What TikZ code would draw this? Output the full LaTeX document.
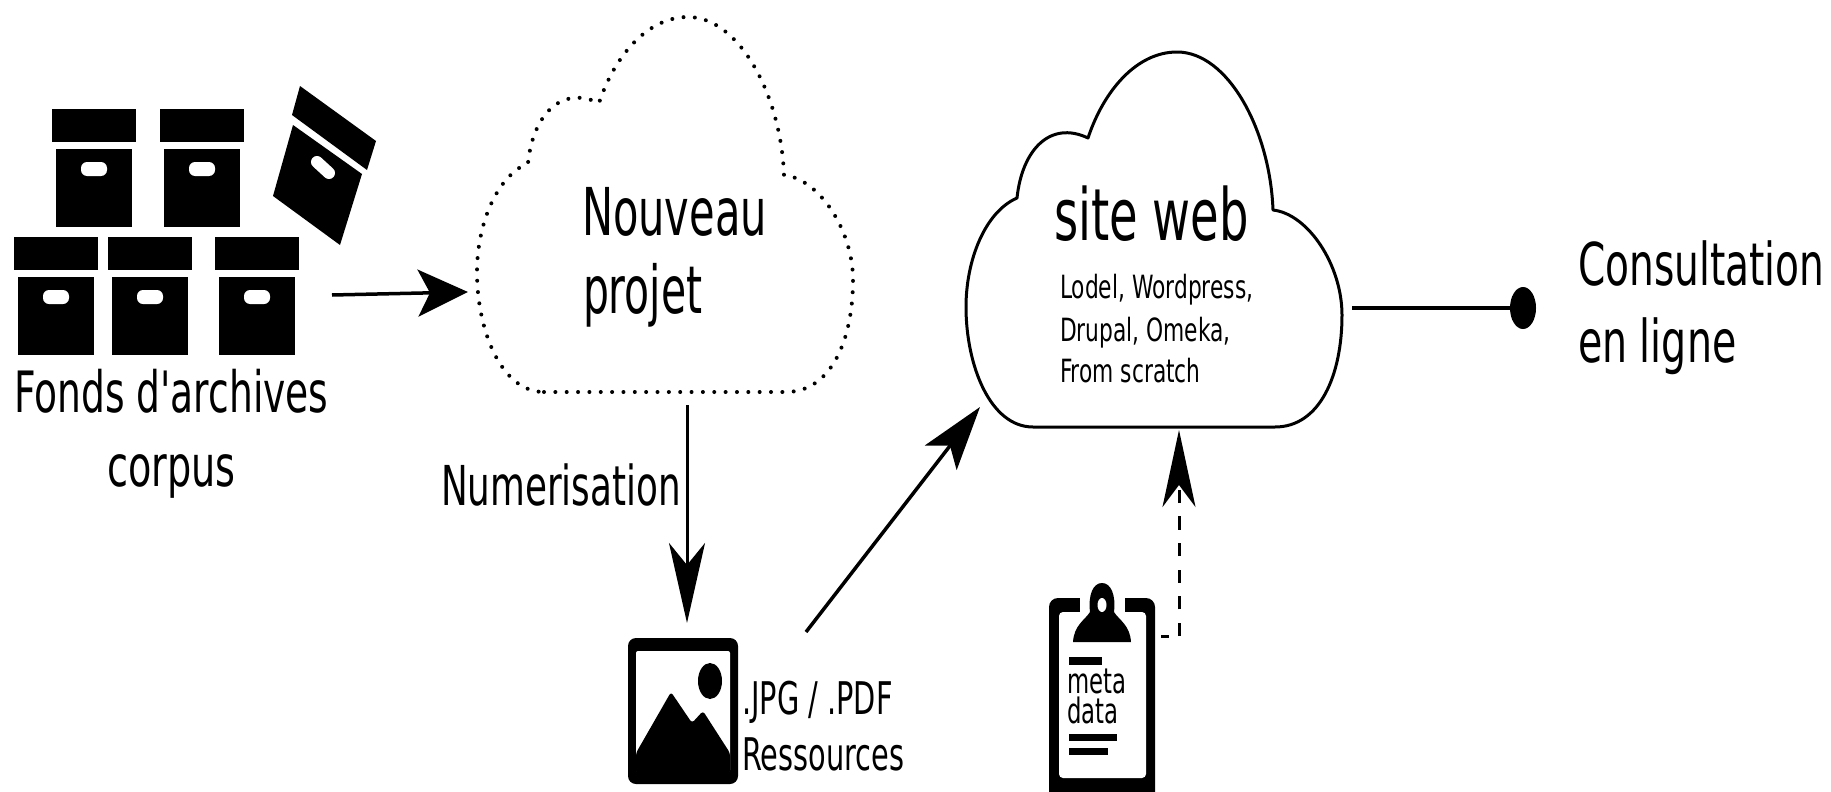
\documentclass[tikz,border=0pt]{standalone}
\usepackage{fontspec}
\setmainfont{DejaVu Sans}[Ligatures=TeXOff]
\usetikzlibrary{arrows.meta,shapes.geometric}
\newcommand\sqz[3]{\scalebox{#1}[1]{\fontsize{#2pt}{#2pt}\selectfont #3}}
\newcommand\cloudpath{(1033,427) -- (1275,427)
  .. controls (1320,427) and (1342,375) .. (1342,315)
  .. controls (1342,265) and (1308,214) .. (1273,210)
  .. controls (1270,130) and (1228,52) .. (1177,52)
  .. controls (1137,52) and (1104,90) .. (1088,138)
  .. controls (1050,120) and (1022,150) .. (1017,198)
  .. controls (985,212) and (966,260) .. (966,307)
  .. controls (966,365) and (990,427) .. (1033,427)}
\tikzset{
  lbl/.style={anchor=base west,inner sep=0pt,outer sep=0pt},
  conn/.style={draw=black,line width=3.5pt},
  cloudline/.style={draw=black,line width=3pt,line join=round},
  dotline/.style={draw=black,line width=4pt,line cap=round,dash pattern=on 0pt off 11.35pt},
  archive/.pic={
    \fill[black] (-42,0) rectangle (42,33);
    \fill[black] (-38,40) rectangle (38,118);
    \fill[white,rounded corners=6pt] (-13,53) rectangle (13,67);
  }
}
\begin{document}
\begin{tikzpicture}[x=1pt,y=-1pt]
\clip (0,0) rectangle (1831,792);
\fill[white] (0,0) rectangle (1831,792);
% archive boxes
\pic at (94,109) {archive};
\pic at (202,109) {archive};
\pic at (56,237) {archive};
\pic at (150,237) {archive};
\pic at (257,237) {archive};
\fill[black] (300,86) -- (376,141) -- (367,170) -- (292,115) -- cycle;
\fill[black] (293,125) -- (362,174) -- (340,245) -- (273,196) -- cycle;
\draw[white,line width=12pt,line cap=round] (317,162) -- (329,173);
\node[lbl] (fonds) at (14,412) {\sqz{.66}{57}{Fonds d'archives}};
\node[lbl] (corpus) at (107,486) {\sqz{.67}{57}{corpus}};
% dotted cloud: the same outline as the solid one, moved
\draw[dotline,shift={(-489,-35)}] \cloudpath;
\node[lbl] (nouveau) at (582,235) {\sqz{.63}{66}{Nouveau}};
\node[lbl] (projet) at (583,313) {\sqz{.62}{66}{projet}};
% solid cloud
\draw[cloudline] \cloudpath -- cycle;
\node[lbl] (siteweb) at (1054,240) {\sqz{.645}{72}{site web}};
\node[lbl] (cms1) at (1060,298) {\sqz{.68}{32}{Lodel, Wordpress,}};
\node[lbl] (cms2) at (1060,341) {\sqz{.68}{32}{Drupal, Omeka,}};
\node[lbl] (cms3) at (1060,382) {\sqz{.68}{32}{From scratch}};
% image icon
\fill[black,rounded corners=8pt] (628,638) rectangle (738,784);
\fill[white,rounded corners=2pt] (636,651) rectangle (730,772);
\fill[black] (710,681) ellipse [x radius=12,y radius=18];
\fill[black,rounded corners=3pt] (636,753) -- (671,692) -- (692,723) -- (703,711) -- (730,753) -- (730,774) -- (636,774) -- cycle;
\node[lbl] (jpg) at (742,714) {\sqz{.64}{45}{.JPG / .PDF}};
\node[lbl] (res) at (742,770) {\sqz{.64}{45}{Ressources}};
% clipboard
\fill[black,rounded corners=9pt] (1049,598) rectangle (1155,812);
\fill[white,rounded corners=4pt] (1059,612) rectangle (1146,778);
\fill[white] (1080,590) rectangle (1125,612);
\fill[black] (1073,642) .. controls (1074,625) and (1085,620) .. (1090,612)
  .. controls (1088,595) and (1093,583) .. (1102,583)
  .. controls (1111,583) and (1116,595) .. (1114,612)
  .. controls (1119,620) and (1130,625) .. (1131,642) -- cycle;
\fill[white] (1102,605) ellipse [x radius=4.5,y radius=7];
\fill[black] (1069,657) rectangle (1102,665);
\fill[black] (1069,734) rectangle (1117,741);
\fill[black] (1069,748) rectangle (1108,755);
\node[lbl] (meta) at (1067,693) {\sqz{.65}{35}{meta}};
\node[lbl] (data) at (1067,723) {\sqz{.65}{35}{data}};
% right-hand side
\node[lbl] (consult) at (1578,285) {\sqz{.663}{59}{Consultation}};
\node[lbl] (ligne) at (1578,362) {\sqz{.67}{59}{en ligne}};
\node[fill=black,ellipse,minimum width=26pt,minimum height=42pt,inner sep=0pt,outer sep=0pt] (dot) at (1523,308) {};
% connector ends
\coordinate (a1) at (332,295);
\coordinate (a2) at (468,292);
\coordinate (b1) at (687,405);
\coordinate (b2) at (687,623);
\coordinate (c1) at (806,632);
\coordinate (c2) at (980,407);
\coordinate (d1) at (1161,636);
\coordinate (d2) at (1179,636);
\coordinate (d3) at (1179,430);
\coordinate (e1) at (1352,308);
% connectors
\draw[conn,-{Stealth[length=50pt,width=47pt,inset=12pt]}] (a1) -- (a2);
\draw[conn,line width=3pt,-{Stealth[length=80pt,width=36pt,inset=22pt]}] (b1) -- (b2);
\draw[conn,-{Stealth[length=64pt,width=40pt,inset=15pt]}] (c1) -- (c2);
\draw[conn,line width=3pt,dash pattern=on 8pt off 10pt on 13.3pt off 13.3pt on 13.3pt off 13.3pt on 13.3pt off 13.3pt on 13.3pt off 13.3pt on 13.3pt off 13.3pt on 13.3pt off 13.3pt on 13.3pt off 13.3pt on 13.3pt off 13.3pt,-{Stealth[length=77pt,width=33pt,inset=22pt]}] (d1) -- (d2) -- (d3);
\draw[conn] (e1) -- (dot);
\node[lbl] (num) at (441,505) {\sqz{.65}{55}{Numerisation}};
\end{tikzpicture}
\end{document}
